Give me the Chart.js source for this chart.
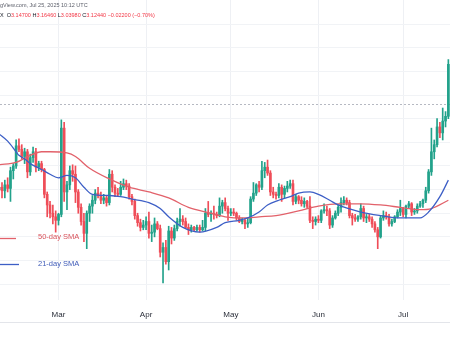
<!DOCTYPE html>
<html><head><meta charset="utf-8">
<script src="https://cdn.jsdelivr.net/npm/chart.js@4.4.1/dist/chart.umd.min.js"></script>
<style>html,body{margin:0;padding:0;background:#fff;overflow:hidden}canvas{display:block}</style>
</head><body>
<canvas id="c" width="450" height="338"></canvas>
<script>
// Daily XRP/USD candles, first candle = 2025-02-08, one per day through 2025-07-17
const firstDay = '2025-02-08';
const opens = [2.40,2.42,2.39,2.44,2.41,2.56,2.60,2.77,2.74,2.68,2.72,2.55,2.67,2.72,2.59,2.62,2.57,2.36,2.27,2.20,2.17,
 2.14,2.19,2.92,2.38,2.44,2.56,2.53,2.38,2.25,2.13,2.03,2.20,2.26,2.31,2.37,2.35,2.31,2.33,2.29,2.53,2.42,2.37,2.36,2.42,2.45,2.43,2.34,2.30,2.18,2.12,2.08,
 2.10,2.13,2.03,2.04,2.11,2.07,1.87,1.91,1.79,2.05,1.99,2.07,2.13,2.15,2.13,2.08,2.06,2.08,2.06,2.08,2.06,2.08,2.20,2.19,2.20,2.19,2.18,2.26,2.29,2.24,
 2.20,2.21,2.20,2.16,2.13,2.14,2.11,2.12,2.32,2.37,2.44,2.42,2.56,2.59,2.54,2.38,2.36,2.35,2.42,2.36,2.41,2.43,2.45,2.30,2.34,2.31,2.28,2.30,2.26,2.14,2.13,
 2.15,2.14,2.22,2.23,2.22,2.10,2.16,2.20,2.25,2.29,2.31,2.29,2.18,2.16,2.15,2.17,2.24,2.16,2.17,2.15,2.11,2.06,2.00,2.16,2.18,2.17,2.11,2.13,2.17,2.21,
 2.24,2.19,2.26,2.28,2.21,2.22,2.26,2.28,2.31,2.39,2.55,2.72,2.78,2.93,2.88,2.98,3.02];
const highs = [2.45,2.46,2.48,2.50,2.59,2.62,2.82,2.83,2.78,2.75,2.74,2.70,2.76,2.75,2.64,2.64,2.58,2.38,2.30,2.27,2.22,
 2.20,2.99,2.97,2.47,2.60,2.61,2.60,2.40,2.28,2.20,2.22,2.28,2.35,2.40,2.42,2.38,2.36,2.35,2.57,2.56,2.44,2.41,2.47,2.49,2.48,2.45,2.36,2.32,2.20,2.15,2.14,
 2.17,2.21,2.10,2.16,2.13,2.10,1.95,1.97,2.09,2.08,2.10,2.16,2.24,2.18,2.16,2.11,2.10,2.09,2.10,2.10,2.14,2.24,2.30,2.22,2.26,2.21,2.33,2.31,2.33,2.26,
 2.24,2.24,2.21,2.18,2.16,2.15,2.16,2.34,2.46,2.45,2.47,2.64,2.63,2.65,2.56,2.42,2.38,2.45,2.44,2.43,2.47,2.48,2.48,2.36,2.35,2.34,2.33,2.31,2.34,2.17,2.17,
 2.18,2.23,2.28,2.26,2.24,2.18,2.22,2.27,2.33,2.34,2.33,2.31,2.20,2.19,2.18,2.28,2.26,2.19,2.19,2.17,2.13,2.08,2.18,2.22,2.21,2.19,2.15,2.18,2.23,2.31,
 2.25,2.27,2.30,2.29,2.24,2.28,2.30,2.32,2.42,2.57,2.92,2.82,3.00,2.97,3.09,3.06,3.50];
const lows = [2.37,2.33,2.33,2.38,2.30,2.49,2.58,2.72,2.66,2.62,2.50,2.52,2.63,2.55,2.56,2.55,2.33,2.17,2.16,2.11,2.04,
 2.10,2.17,2.30,2.23,2.40,2.47,2.29,2.20,2.10,1.96,1.90,2.13,2.20,2.28,2.33,2.28,2.28,2.26,2.27,2.38,2.34,2.34,2.35,2.40,2.40,2.32,2.27,2.15,2.09,2.05,2.06,
 2.06,1.99,1.96,2.00,2.06,1.83,1.61,1.77,1.72,1.94,1.97,2.05,2.09,2.10,2.07,2.02,2.04,2.05,2.05,2.04,2.05,2.05,2.17,2.13,2.15,2.16,2.17,2.20,2.22,2.14,
 2.18,2.18,2.14,2.12,2.11,2.07,2.08,2.11,2.30,2.35,2.38,2.40,2.50,2.52,2.35,2.33,2.32,2.33,2.30,2.33,2.38,2.41,2.27,2.28,2.28,2.26,2.25,2.24,2.12,2.07,2.10,
 2.12,2.12,2.20,2.18,2.07,2.08,2.15,2.18,2.21,2.27,2.27,2.16,2.10,2.13,2.13,2.15,2.13,2.12,2.13,2.08,2.04,1.90,1.99,2.14,2.15,2.09,2.09,2.12,2.16,2.18,
 2.17,2.16,2.24,2.18,2.19,2.20,2.25,2.25,2.29,2.37,2.52,2.66,2.76,2.84,2.82,2.93,3.00];
const closes = [2.42,2.39,2.44,2.41,2.56,2.60,2.77,2.74,2.68,2.72,2.55,2.67,2.72,2.59,2.62,2.57,2.36,2.27,2.20,2.17,2.14,
 2.19,2.92,2.38,2.44,2.56,2.53,2.38,2.25,2.13,2.03,2.20,2.26,2.31,2.37,2.35,2.31,2.33,2.29,2.53,2.42,2.37,2.36,2.42,2.45,2.43,2.34,2.30,2.18,2.12,2.08,2.10,
 2.13,2.03,2.04,2.11,2.07,1.87,1.91,1.79,2.05,1.99,2.07,2.13,2.15,2.13,2.08,2.06,2.08,2.06,2.08,2.06,2.08,2.20,2.19,2.20,2.19,2.18,2.26,2.29,2.24,2.20,
 2.21,2.20,2.16,2.13,2.14,2.11,2.12,2.32,2.37,2.44,2.42,2.56,2.59,2.54,2.38,2.36,2.35,2.42,2.36,2.41,2.43,2.45,2.30,2.34,2.31,2.28,2.30,2.26,2.14,2.13,2.15,
 2.14,2.22,2.23,2.22,2.10,2.16,2.20,2.25,2.29,2.31,2.29,2.18,2.16,2.15,2.17,2.24,2.16,2.17,2.15,2.11,2.06,2.00,2.16,2.18,2.17,2.11,2.13,2.17,2.21,2.24,
 2.19,2.26,2.28,2.21,2.22,2.26,2.28,2.31,2.39,2.55,2.72,2.78,2.93,2.88,2.98,3.02,3.46];

// Moving averages (day index from firstDay, value)
const sma21Days   = [0,3,6,7,9,11,15,18,21,24,27,30,33,39,43,47,53,57,60,65,71,77,80,85,88,92,95,99,103,106,110,113,117,120,128,135,142,149,152,156,159];
const sma21Values = [2.87,2.81,2.72,2.69,2.66,2.62,2.57,2.53,2.50,2.52,2.50,2.42,2.36,2.35,2.34,2.32,2.29,2.24,2.17,2.08,2.04,2.08,2.12,2.14,2.16,2.21,2.27,2.31,2.34,2.37,2.38,2.36,2.31,2.27,2.21,2.18,2.16,2.16,2.21,2.34,2.48];
const sma50Days   = [0,6,11,15,18,24,27,32,39,46,53,60,67,75,80,87,92,98,106,113,120,128,135,142,149,153,159];
const sma50Values = [2.61,2.63,2.69,2.72,2.72,2.71,2.68,2.58,2.49,2.42,2.38,2.33,2.25,2.20,2.17,2.16,2.17,2.18,2.22,2.26,2.28,2.28,2.27,2.25,2.23,2.24,2.31];

const monthTickDays = [21,52,82,113,143];
const monthTickLabels = ['Mar','Apr','May','Jun','Jul'];
const gridPrices = [1.6,1.8,2.0,2.2,2.4,2.6,2.8,3.0,3.2,3.4,3.6,3.8];
const lastClose = 3.1244;
const headerSource = 'Published on TradingView.com, Jul 25, 2025 10:12 UTC';
const headerHidden = 'Published on Tradin';
const ohlcParts = [['X  ','#131722'],['O','#131722'],['3.14700 ','#f23645'],['H','#131722'],['3.16460 ','#f23645'],['L','#131722'],['3.03980 ','#f23645'],['C','#131722'],['3.12440 ','#f23645'],['\u22120.02200 (\u22120.70%)','#f23645']];

const UP = '#22a28b', DOWN = '#ef4d58';
const SMA50_COLOR = '#e2616a', SMA21_COLOR = '#3d5fc6';
const FONT = '"Liberation Sans", Arial, sans-serif';
const candleColors = closes.map((c, i) => c >= opens[i] ? UP : DOWN);

const overlay = {
  id: 'overlay',
  beforeDatasetsDraw(chart) {
    const {ctx, chartArea, scales: {y}} = chart;
    const py = Math.round(y.getPixelForValue(lastClose)) + 0.5;
    ctx.save();
    ctx.strokeStyle = '#b6b9c2'; ctx.lineWidth = 1; ctx.setLineDash([2, 2]);
    ctx.beginPath(); ctx.moveTo(chartArea.left, py); ctx.lineTo(chartArea.right, py); ctx.stroke();
    ctx.restore();
  },
  afterDraw(chart) {
    const {ctx, chartArea} = chart;
    ctx.save();
    // bottom border of time axis
    ctx.strokeStyle = '#e3e5ea'; ctx.lineWidth = 1;
    const by = chartArea.bottom + 22.5;
    ctx.beginPath(); ctx.moveTo(0, by); ctx.lineTo(chart.width, by); ctx.stroke();
    // header
    ctx.font = '5.5px ' + FONT; ctx.textBaseline = 'middle'; ctx.textAlign = 'left';
    ctx.fillStyle = '#5d606b';
    ctx.fillText(headerSource, -ctx.measureText(headerHidden).width, 5);
    let x = 0;
    for (const [t, c] of ohlcParts) { ctx.fillStyle = c; ctx.fillText(t, x, 15); x += ctx.measureText(t).width; }
    // SMA annotations
    ctx.lineWidth = 1.3;
    ctx.strokeStyle = SMA50_COLOR; ctx.beginPath(); ctx.moveTo(0, 238.5); ctx.lineTo(16, 238.5); ctx.stroke();
    ctx.strokeStyle = SMA21_COLOR; ctx.beginPath(); ctx.moveTo(0, 264.5); ctx.lineTo(19, 264.5); ctx.stroke();
    ctx.font = '7.5px ' + FONT;
    ctx.fillStyle = '#d9545c'; ctx.fillText('50-day SMA', 38, 237);
    ctx.fillStyle = '#3f5bb8'; ctx.fillText('21-day SMA', 38, 264);
    ctx.restore();
  }
};

new Chart(document.getElementById('c'), {
  type: 'bar',
  data: {
    datasets: [
      { type: 'line', label: '21-day SMA', data: sma21Days.map((d, k) => ({x: d, y: sma21Values[k]})),
        borderColor: SMA21_COLOR, borderWidth: 1.3, pointRadius: 0, cubicInterpolationMode: 'monotone', order: 0 },
      { type: 'line', label: '50-day SMA', data: sma50Days.map((d, k) => ({x: d, y: sma50Values[k]})),
        borderColor: SMA50_COLOR, borderWidth: 1.3, pointRadius: 0, cubicInterpolationMode: 'monotone', order: 1 },
      { type: 'bar', label: 'body', data: opens.map((o, i) => ({x: i, y: [o, closes[i]]})),
        backgroundColor: candleColors, barThickness: 2, minBarLength: 1, grouped: false, order: 2 },
      { type: 'bar', label: 'wick', data: lows.map((l, i) => ({x: i, y: [l, highs[i]]})),
        backgroundColor: candleColors, barThickness: 1, grouped: false, order: 3 }
    ]
  },
  options: {
    responsive: false, animation: false, devicePixelRatio: 1,
    layout: { padding: 0 },
    plugins: { legend: { display: false }, tooltip: { enabled: false } },
    scales: {
      x: {
        type: 'linear', min: 0.292, max: 159.58, offset: false,
        grid: { color: '#eef0f4', drawTicks: false, offset: false },
        border: { display: false },
        afterBuildTicks: s => { s.ticks = monthTickDays.map(v => ({value: v})); },
        ticks: { autoSkip: false, maxRotation: 0, padding: 10, color: '#2a2e39',
          font: { size: 8, family: FONT }, callback: (v, i) => monthTickLabels[i] },
        afterFit: s => { s.height = 38; }
      },
      y: {
        min: 1.466, max: 4.004,
        grid: { color: '#f1f3f6', drawTicks: false },
        border: { display: false },
        ticks: { display: false },
        afterBuildTicks: s => { s.ticks = gridPrices.map(v => ({value: v})); },
        afterFit: s => { s.width = 0; }
      }
    }
  },
  plugins: [overlay]
});
</script>
</body></html>
